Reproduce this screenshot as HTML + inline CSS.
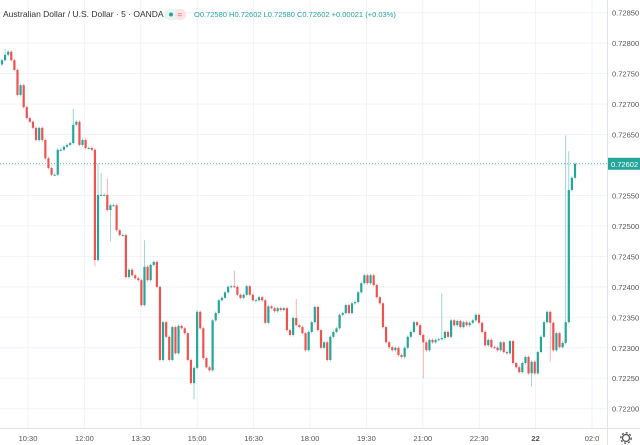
<!DOCTYPE html>
<html><head><meta charset="utf-8"><style>
body{margin:0;background:#fff;width:640px;height:445px;overflow:hidden;font-family:"Liberation Sans",sans-serif}
svg{display:block}
</style></head><body>
<svg id="chart" width="640" height="445">
<g id="grid"></g>
<g id="candles"></g>
<g id="axis"></g>
<g id="taxis"></g>
<text x="3" y="17" font-size="8.5" fill="#333">Australian Dollar / U.S. Dollar · 5 · OANDA</text>
<g><rect x="164" y="9" width="22" height="11" rx="5.5" fill="#e8f5f3"/><rect x="175" y="9" width="11" height="11" rx="5.5" fill="#fde4e7"/><circle cx="171" cy="14.5" r="2" fill="#26a69a"/><text x="177.5" y="17.5" font-size="8" fill="#ef5350">=</text></g>
<text x="194" y="17" font-size="7.5" fill="#26a69a">O0.72580 H0.72602 L0.72580 C0.72602 +0.00021 (+0.03%)</text>
<g><circle cx="626" cy="438" r="3.5" fill="none" stroke="#555" stroke-width="1.3"/><circle cx="626" cy="438" r="5.2" fill="none" stroke="#555" stroke-width="1.4" stroke-dasharray="2 2"/></g>
</svg>
<script>
const closes=[.72772,.72781,.72786,.72772,.72756,.72715,.72731,.72695,.72677,.72671,.72661,.72641,.72661,.72641,.72611,.72595,.72584,.72584,.72625,.72625,.72630,.72633,.72636,.72666,.72671,.72633,.72641,.72628,.72628,.72625,.72444,.72551,.72551,.72551,.72526,.72534,.72534,.72493,.72485,.72485,.72416,.72428,.72419,.72414,.72411,
.72370,.72433,.72411,.72436,.72441,.72400,.72280,.72342,.72318,.72280,.72334,.72291,.72336,.72332,.72324,.72280,.72242,.72267,.72359,.72332,.72283,.72268,.72263,.72345,.72357,.72378,.72382,.72391,.72400,.72401,.72400,.72387,.72382,.72387,.72401,.72387,.72378,.72378,.72383,.72378,.72341,.72368,.72365,.72360,.72365,.72362,.72365,.72329,.72321,
.72349,.72337,.72334,.72324,.72296,.72326,.72342,.72367,.72329,.72300,.72309,.72280,.72318,.72326,.72332,.72354,.72357,.72370,.72357,.72373,.72375,.72391,.72406,.72419,.72406,.72419,.72403,.72383,.72373,.72334,.72309,.72301,.72296,.72300,.72288,.72285,.72300,.72318,.72326,.72342,.72337,.72321,.72309,.72296,.72313,
.72309,.72313,.72314,.72316,.72326,.72318,.72345,.72337,.72344,.72334,.72342,.72337,.72341,.72345,.72354,.72341,.72326,.72304,.72313,.72301,.72300,.72296,.72309,.72293,.72291,.72311,.72275,.72268,.72260,.72275,.72285,.72258,.72277,.72258,.72293,.72318,.72342,.72359,.72341,.72296,.72324,.72301,.72308,.72342,.72559,.72579,.72602];
const firstOpen=.72765;
const highIdx=[1,23,31,32,34,46,75,95,117,142,182,183];
const highVals=[.72788,.72690,.72600,.72584,.72575,.72474,.72424,.72378,.72395,.72387,.72646,.72620];
const lowIdx=[30,35,62,136,171,177,183];
const lowVals=[.72436,.72477,.72218,.72252,.72239,.72280,.72556];
const priceTicks=[.72850,.72800,.72750,.72700,.72650,.72600,.72550,.72500,.72450,.72400,.72350,.72300,.72250,.72200];
const timeLabels=["10:30","12:00","13:30","15:00","16:30","18:00","19:30","21:00","22:30","22","02:0"];
const lastPrice=.72602;
const NS="http://www.w3.org/2000/svg";
function Y(p){return 165-(p-0.726)*60923;}
function X(i){return 2+i*(573/(closes.length-1));}
function TX(k){return 28+k*56.4;}
function mk(tag,attrs,parent){const e=document.createElementNS(NS,tag);for(const k in attrs)e.setAttribute(k,attrs[k]);parent.appendChild(e);return e;}
const grid=document.getElementById('grid'),cg=document.getElementById('candles'),ax=document.getElementById('axis'),tx=document.getElementById('taxis');
priceTicks.forEach(p=>{const y=Y(p);
const l=mk('line',{x1:0,x2:607,y1:y,y2:y,stroke:'#f0f3fa','stroke-width':1},grid);


const t=mk('text',{x:612,y:y+3,'font-size':7.5,fill:'#555'},ax);t.textContent=p.toFixed(5);

});
timeLabels.forEach((s,k)=>{const x=TX(k);
const l=mk('line',{x1:x,x2:x,y1:0,y2:428,stroke:'#f0f3fa','stroke-width':1},grid);


const t=mk('text',{x:x,y:441,'font-size':7.5,fill:'#555','text-anchor':'middle','font-weight':s==='22'?'bold':'normal'},tx);t.textContent=s;

});
mk('line',{x1:607.5,x2:607.5,y1:0,y2:445,stroke:'#e0e3eb'},grid);
mk('line',{x1:0,x2:640,y1:428.5,y2:428.5,stroke:'#e0e3eb'},grid);
const ly=Y(lastPrice);
const pl=mk('line',{x1:0,x2:607,y1:ly,y2:ly,stroke:'#26a69a','stroke-width':0.8,'stroke-dasharray':'1 2'},cg);


closes.forEach((c,i)=>{const o=i?closes[i-1]:firstOpen;const up=c>=o;const col=up?'#26a69a':'#ef5350';
let hi=Math.max(o,c),lo=Math.min(o,c);const hk=highIdx.indexOf(i);if(hk>=0)hi=Math.max(hi,highVals[hk]);const lk=lowIdx.indexOf(i);if(lk>=0)lo=Math.min(lo,lowVals[lk]);
const x=X(i);const g=mk('g',{},cg);


mk('line',{x1:x,x2:x,y1:Y(hi)-1.5,y2:Y(lo)+1.5,stroke:col,'stroke-width':0.8,opacity:0.55},g);
const yt=Y(Math.max(o,c)),yb=Y(Math.min(o,c));
mk('rect',{x:x-1.1,y:yt,width:2.2,height:Math.max(1,yb-yt),fill:col},g);});
const b=mk('g',{},ax);


mk('rect',{x:608,y:ly-6,width:32,height:12,fill:'#26a69a'},b);
const bt=mk('text',{x:611,y:ly+3,'font-size':7.5,fill:'#fff'},b);bt.textContent=lastPrice.toFixed(5);
</script>
</body></html>
